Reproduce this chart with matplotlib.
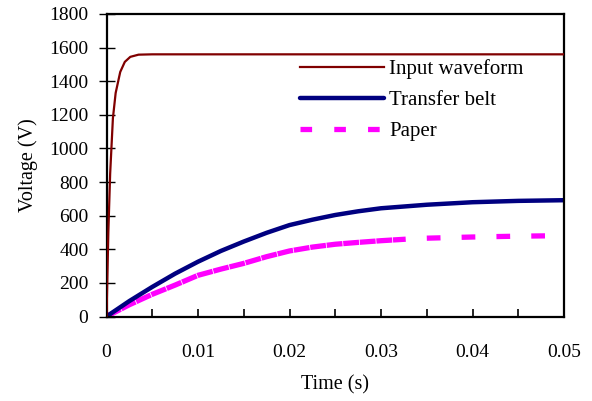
import matplotlib
matplotlib.use("Agg")
import matplotlib.pyplot as plt
from matplotlib.lines import Line2D
from matplotlib.ticker import MultipleLocator, FuncFormatter

plt.rcParams['font.family'] = ['Liberation Serif', 'DejaVu Serif']

# input waveform
t_in = [0, 0.0002, 0.0004, 0.0007, 0.001, 0.0015, 0.002, 0.0026, 0.0035, 0.005, 0.05]
v_in = [0, 500, 850, 1180, 1330, 1455, 1515, 1545, 1558, 1560, 1560]

# transfer belt
t_belt = [0, 0.0025, 0.005, 0.0075, 0.01, 0.0125, 0.015, 0.0175, 0.02, 0.0225,
          0.025, 0.0275, 0.03, 0.035, 0.04, 0.045, 0.05]
v_belt = [0, 92, 176, 255, 326, 390, 446, 498, 544, 576,
          604, 626, 644, 665, 680, 688, 692]

# paper
t_pap = [0, 0.0025, 0.005, 0.0075, 0.01, 0.0125, 0.015, 0.0175, 0.02, 0.0225,
         0.025, 0.0275, 0.03, 0.0327, 0.035, 0.04, 0.045, 0.05]
v_pap = [0, 70, 132, 187, 245, 282, 316, 356, 390, 413,
         430, 441, 451, 460, 466, 473, 478, 481]

fig = plt.figure(figsize=(5.92, 4.01), dpi=100)
ax = fig.add_axes([106.5/592, 1 - 316.5/401, 457.5/592, 302.5/401])

ax.plot(t_in, v_in, color='#800000', lw=1.6, zorder=3)
ax.plot(t_belt, v_belt, color='#000080', lw=3.2, solid_capstyle='butt', zorder=2)

# paper: tight dashes up to ~0.033 s, then sparse dashes
n = t_pap.index(0.0327)
ax.plot(t_pap[:n+1], v_pap[:n+1], color='#FF00FF', lw=3.8,
        linestyle=(0, (3.0, 0.15)), dash_capstyle='butt', zorder=1)
ax.plot(t_pap[n:], v_pap[n:], color='#FF00FF', lw=3.8,
        linestyle=(2.6, (2.6, 4.0)), dash_capstyle='butt', zorder=1)

ax.set_xlim(0, 0.05)
ax.set_ylim(0, 1800)
ax.xaxis.set_major_locator(MultipleLocator(0.01))
ax.xaxis.set_minor_locator(MultipleLocator(0.005))
ax.yaxis.set_major_locator(MultipleLocator(200))
ax.xaxis.set_major_formatter(FuncFormatter(lambda v, p: '0' if abs(v) < 1e-9 else '%g' % round(v, 3)))

ax.tick_params(axis='x', which='both', direction='in', length=6, width=1.2,
               labelsize=14, pad=20)
ax.tick_params(axis='y', direction='inout', length=12, width=1.0,
               labelsize=14, pad=7)
for s in ax.spines.values():
    s.set_linewidth(1.6)

ax.set_xlabel('Time (s)', fontsize=14.5, labelpad=10)
ax.set_ylabel('Voltage (V)', fontsize=14.5, labelpad=8)

handles = [
    Line2D([], [], color='#800000', lw=1.6),
    Line2D([], [], color='#000080', lw=3.2, solid_capstyle='round'),
    Line2D([], [], color='#FF00FF', lw=3.8, linestyle=(0, (2.2, 4.2)), dash_capstyle='butt'),
]
ax.legend(handles, ['Input waveform', 'Transfer belt', 'Paper'],
          loc='upper left', bbox_to_anchor=(0.383, 0.913), frameon=False,
          fontsize=15, handlelength=4.0, handletextpad=0.25, labelspacing=0.56)

fig.savefig('out.png', dpi=100)
